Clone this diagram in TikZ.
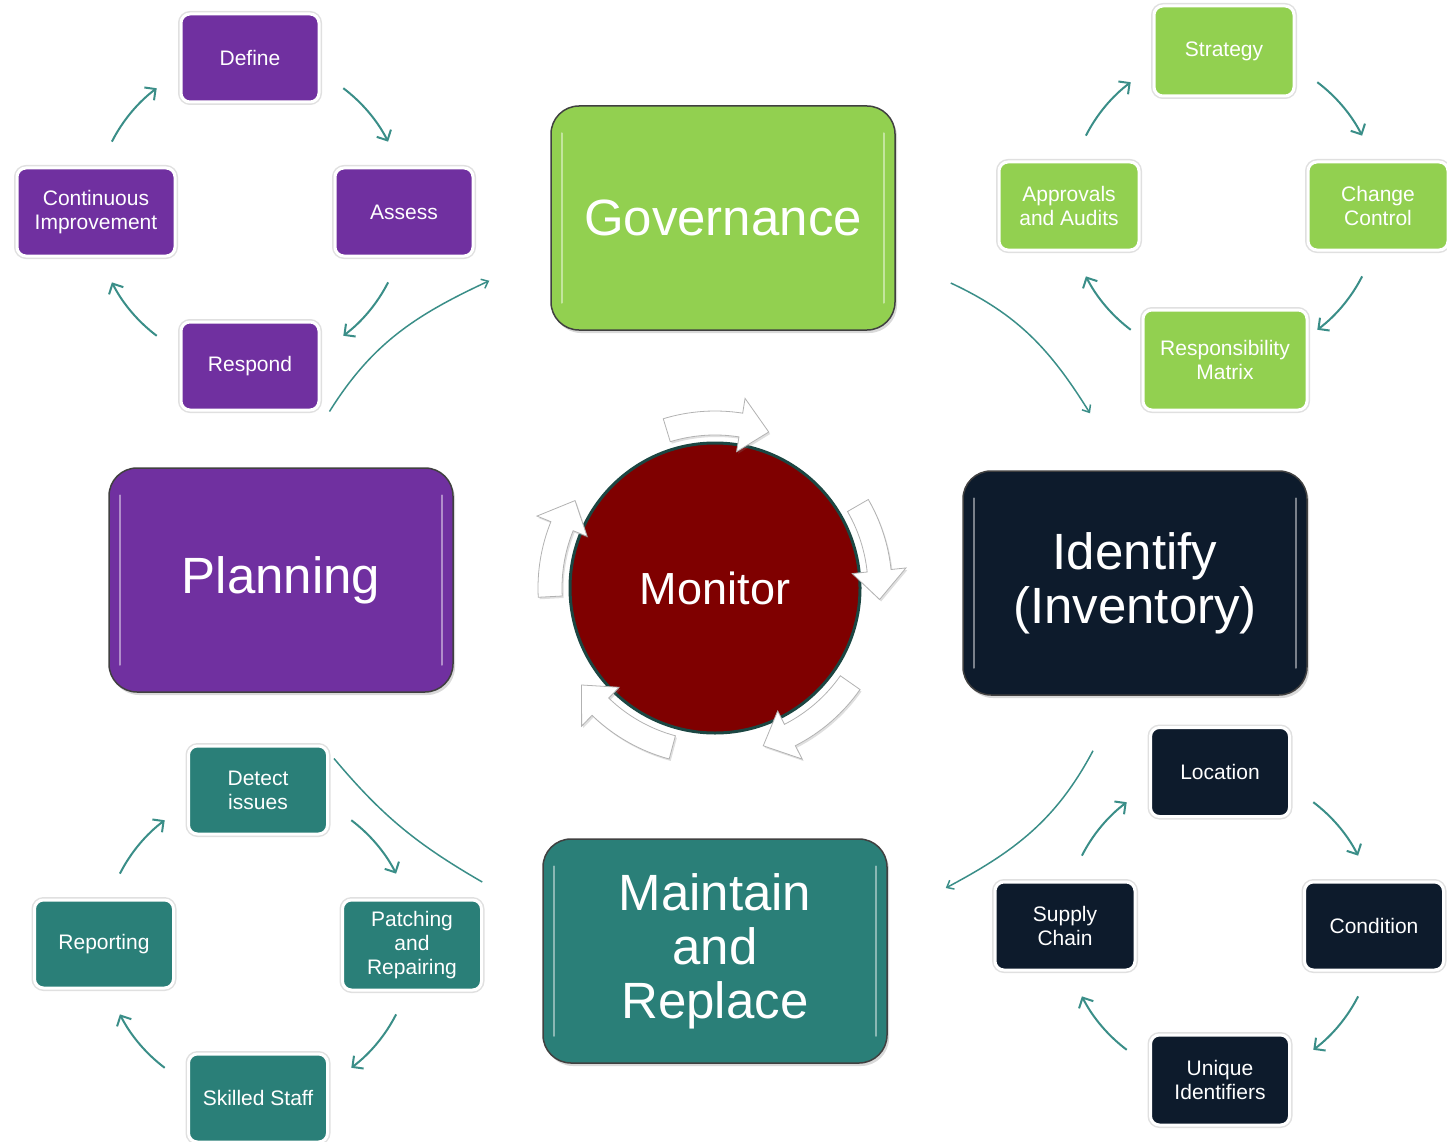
\documentclass[tikz,border=0pt]{standalone}
\usepackage{fontspec}
\setmainfont{Liberation Sans}
\usetikzlibrary{arrows.meta}
\usetikzlibrary{shadows}

\definecolor{govgreen}{HTML}{92D050}
\definecolor{planpurple}{HTML}{7030A0}
\definecolor{idnavy}{HTML}{0D1B2C}
\definecolor{mainteal}{HTML}{2A7F78}
\definecolor{monred}{HTML}{7F0000}
\definecolor{monrim}{HTML}{1B4642}
\definecolor{linkteal}{HTML}{3A8E88}

\tikzset{
  bigbox/.style={draw=black!75, line width=1.5pt, rounded corners=28pt, minimum width=344pt, minimum height=224pt,
    text=white, align=center, font=\fontsize{51}{54}\selectfont,
    drop shadow={shadow xshift=2pt, shadow yshift=-3pt, opacity=.3}},
  smallbox/.style={preaction={draw=black!12, line width=6pt}, draw=white, line width=3pt, rounded corners=9pt,
    text=white, align=center, inner sep=2pt, font=\fontsize{21}{24}\selectfont},
  cyc/.style={draw=linkteal, line width=2pt, -{Straight Barb[length=8pt, width=16pt, line width=2pt]}},
  link/.style={draw=linkteal, line width=1.5pt},
  gloss/.style={white, opacity=.45, line width=2pt, line cap=round},
  ring/.style={fill=white, draw=black!30, line width=.8pt, drop shadow={shadow xshift=1.5pt, shadow yshift=-2pt, opacity=.25}}
}

% white block arrow round the monitor circle: #1 tail angle, #2 tip angle
\newcommand{\ringarrow}[2]{%
  \filldraw[ring] ([shift={(#1:177pt)}]mon.center) arc[start angle=#1, end angle=#2+10, radius=177pt]
    -- ([shift={(#2+10:192pt)}]mon.center) -- ([shift={(#2:165pt)}]mon.center)
    -- ([shift={(#2+10:138pt)}]mon.center) -- ([shift={(#2+10:153pt)}]mon.center)
    arc[start angle=#2+10, end angle=#1, radius=153pt] -- cycle;}

\begin{document}
\begin{tikzpicture}[x=1pt, y=-1pt]
\useasboundingbox (0,0) rectangle (1447,1142);

% main blocks
\node[bigbox, fill=govgreen] (gov) at (723,218) {Governance};
\node[bigbox, fill=planpurple] (plan) at (281,580) {Planning};
\node[bigbox, fill=idnavy] (ident) at (1135,583) {Identify\\(Inventory)};
\node[bigbox, fill=mainteal] (maint) at (715,951) {Maintain\\and\\Replace};
\foreach \b in {gov, plan, ident, maint} {
  \draw[gloss] ([shift={(12pt,-28pt)}]\b.north west) -- ([shift={(12pt,28pt)}]\b.south west);
  \draw[gloss] ([shift={(-12pt,-28pt)}]\b.north east) -- ([shift={(-12pt,28pt)}]\b.south east);
}

\node[circle, fill=monred, draw=monrim, line width=3pt, minimum size=290pt, inner sep=0pt, text=white,
  font=\fontsize{45}{50}\selectfont] (mon) at (715,588) {Monitor};
\foreach \s/\e in {107/71, 30/-4, -35/-73, -105/-144, -177/-212} \ringarrow{\s}{\e};

% small cycles
\foreach \n/\x/\y/\w/\h/\txt in {def/250/58/138/88/Define, ass/404/212/138/88/Assess, resp/250/366/138/88/Respond,
    ci/96/212/158/88/{Continuous\\Improvement}}
  \node[smallbox, fill=planpurple, minimum width=\w, minimum height=\h] (\n) at (\x,\y) {\txt};
\foreach \n/\x/\y/\w/\h/\txt in {strat/1224/51/140/90/Strategy, chg/1378/206/140/88/{Change\\Control},
    appr/1069/206/140/88/{Approvals\\and Audits}, resm/1225/360/164/100/{Responsibility\\Matrix}}
  \node[smallbox, fill=govgreen, minimum width=\w, minimum height=\h] (\n) at (\x,\y) {\txt};
\foreach \n/\x/\y/\w/\h/\txt in {det/258/790/139/88/{Detect\\issues}, patch/412/945/139/90/{Patching\\and\\Repairing},
    rep/104/944/139/88/Reporting, skill/258/1098/139/88/Skilled Staff}
  \node[smallbox, fill=mainteal, minimum width=\w, minimum height=\h] (\n) at (\x,\y) {\txt};
\foreach \n/\x/\y/\w/\h/\txt in {loc/1220/772/139/89/Location, cond/1374/926/139/88/Condition,
    sup/1065/926/140/88/{Supply\\Chain}, uniq/1220/1080/139/90/{Unique\\Identifiers}}
  \node[smallbox, fill=idnavy, minimum width=\w, minimum height=\h] (\n) at (\x,\y) {\txt};

\coordinate (pc) at (250,212);	% cycle centres
\coordinate (gc) at (1224,206);
\coordinate (tc) at (258,944);
\coordinate (nc) at (1220,926);
\foreach \c in {pc, gc, tc, nc}
  \foreach \s/\e in {53/27, -27/-53, -127/-153, 153/127}
    \draw[cyc] ([shift={(\s:155pt)}]\c) arc[start angle=\s, end angle=\e, radius=155pt];

% links between the cycles and the blocks
\draw[link, -{Straight Barb[length=6pt, width=10pt, line width=1.5pt]}]
  ([shift={(9pt,0pt)}]resp.south east) to[out=58, in=205] ([shift={(-61pt,50pt)}]gov.south west);
\draw[link, -{Straight Barb[length=6pt, width=10pt, line width=1.5pt]}]
  ([shift={(55pt,-65pt)}]gov.east) to[out=-25, in=122] ([shift={(-45pt,57pt)}]ident.north);
\draw[link, -{Straight Barb[length=6pt, width=10pt, line width=1.5pt]}]
  ([shift={(-42pt,-55pt)}]ident.south) to[out=242, in=28] ([shift={(58pt,63pt)}]maint.east);
\draw[link] ([shift={(5pt,-14pt)}]det.north east) to[out=-50, in=150] ([shift={(-60pt,69pt)}]maint.west);
\end{tikzpicture}
\end{document}
